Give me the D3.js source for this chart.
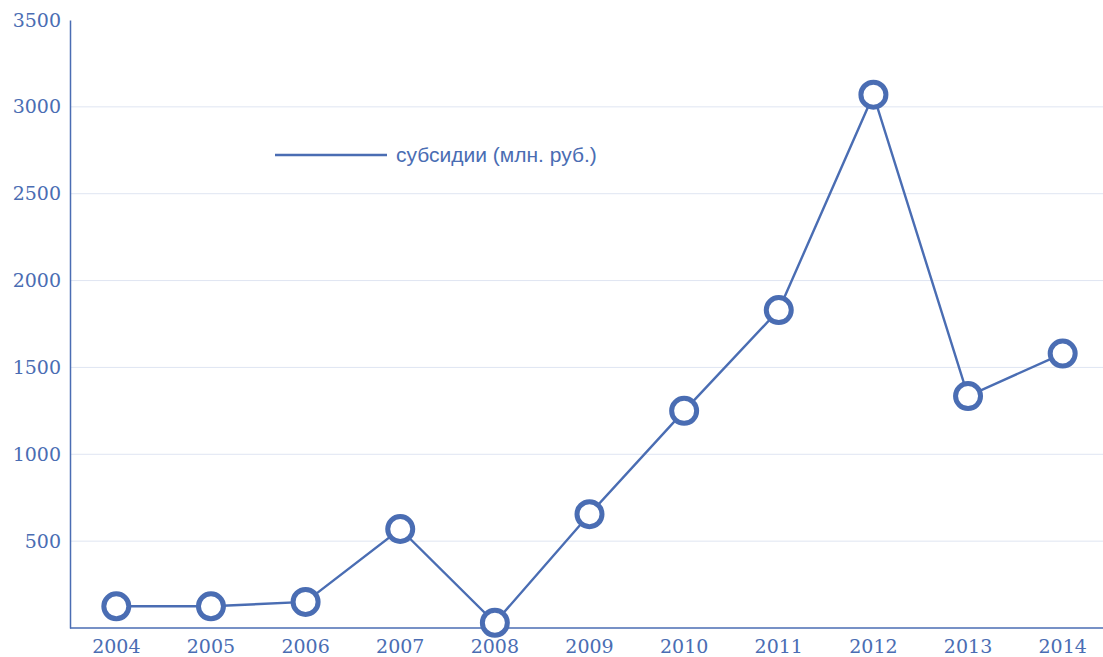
<!DOCTYPE html>
<html>
<head>
<meta charset="utf-8">
<script src="https://cdn.jsdelivr.net/npm/d3@7"></script>
<style>
  body { margin: 0; background: #fff; }
  .tick text { font-family: "DejaVu Serif", "Liberation Serif", serif; font-size: 19px; fill: #4a6db3; }
</style>
</head>
<body>
<div id="chart-area"></div>
<script>
var years = ["2004", "2005", "2006", "2007", "2008", "2009", "2010", "2011", "2012", "2013", "2014"];
var subsidies = [125, 125, 150, 570, 30, 655, 1250, 1830, 3070, 1335, 1580];
var yTicks = [500, 1000, 1500, 2000, 2500, 3000, 3500];
var seriesName = "субсидии (млн. руб.)";

var colour = "#4a6db3";
var width = 1103, height = 657;
var margin = {left: 70, right: 0, top: 20, bottom: 29};

var svg = d3.select("#chart-area").append("svg")
    .attr("width", width)
    .attr("height", height);

var x = d3.scaleBand()
    .domain(years)
    .range([69, 1110]);

var y = d3.scaleLinear()
    .domain([0, 3500])
    .range([height - margin.bottom, margin.top]);

// grid lines
svg.append("g")
    .selectAll("line")
    .data(yTicks.filter(function(d) { return d < 3500; }))
    .enter().append("line")
    .attr("x1", margin.left)
    .attr("x2", width)
    .attr("y1", function(d) { return y(d); })
    .attr("y2", function(d) { return y(d); })
    .attr("stroke", "#dfe5f2")
    .attr("stroke-width", 1);

var yAxis = svg.append("g")
    .attr("transform", "translate(" + margin.left + ",0)")
    .call(d3.axisLeft(y).tickValues(yTicks).tickSize(0).tickPadding(9).tickFormat(d3.format("")));
yAxis.select(".domain").attr("stroke", colour).attr("stroke-width", 1.5);

var xAxis = svg.append("g")
    .attr("transform", "translate(0," + y(0) + ")")
    .call(d3.axisBottom(x).tickSize(0).tickPadding(12));
xAxis.select(".domain").remove();
xAxis.append("line")
    .attr("x1", margin.left)
    .attr("x2", width)
    .attr("stroke", colour)
    .attr("stroke-width", 1.5);

var line = d3.line()
    .x(function(d, i) { return x(years[i]) + x.bandwidth() / 2; })
    .y(function(d) { return y(d); });

svg.append("path")
    .datum(subsidies)
    .attr("d", line)
    .attr("fill", "none")
    .attr("stroke", colour)
    .attr("stroke-width", 2.4);

svg.append("g")
    .selectAll("circle")
    .data(subsidies)
    .enter().append("circle")
    .attr("cx", function(d, i) { return x(years[i]) + x.bandwidth() / 2; })
    .attr("cy", function(d) { return y(d); })
    .attr("r", 12.5)
    .attr("fill", "#fff")
    .attr("stroke", colour)
    .attr("stroke-width", 5);

// legend
var legend = svg.append("g").attr("transform", "translate(275,155)");
legend.append("line")
    .attr("x1", 0).attr("x2", 112)
    .attr("stroke", colour).attr("stroke-width", 2.4);
legend.append("text")
    .attr("x", 121)
    .attr("y", 7)
    .attr("font-family", "Liberation Sans, Arial, sans-serif")
    .attr("font-size", "21px")
    .attr("fill", colour)
    .text(seriesName);
</script>
</body>
</html>
